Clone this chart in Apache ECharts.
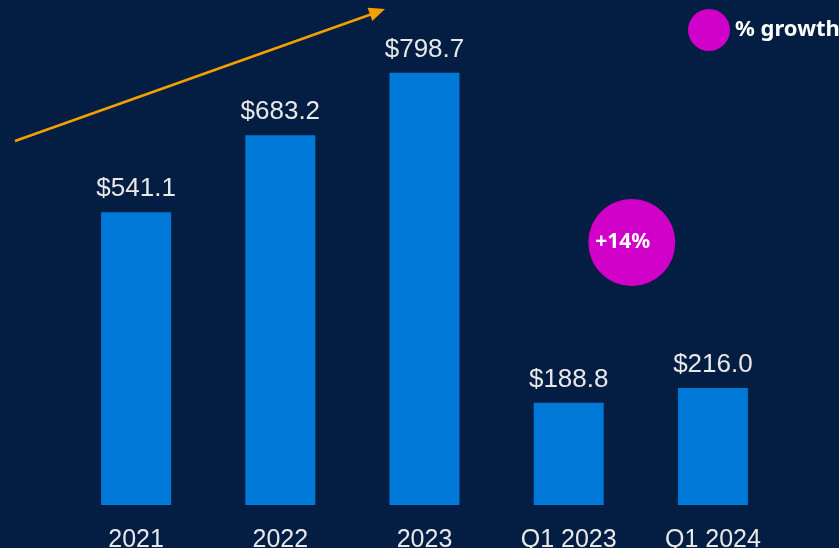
<html>
<head>
<meta charset="UTF-8"/>
<title>Revenue</title>
<script src="https://cdn.jsdelivr.net/npm/echarts@6/dist/echarts.min.js"></script>
<style>
  body { margin: 0; background: #031e42; }
  #canvasDiv { width: 839px; height: 548px; }
</style>
</head>
<body>
<div id="canvasDiv"></div>
<script>
  var categories = ["2021", "2022", "2023", "Q1 2023", "Q1 2024"];
  var revenue = [541.1, 683.2, 798.7, 188.8, 216.0];
  var growthName = "% growth";
  var growthLabels = ["+14%"];
  var growthPoints = [[3.5, 485]]; // between the two quarters

  var chart = echarts.init(document.getElementById("canvasDiv"));

  chart.setOption({
    backgroundColor: "#031e42",
    animation: false,
    grid: { left: 64, right: 54, top: 72, bottom: 43, outerBoundsMode: "none", containLabel: false },
    legend: {
      data: [{ name: growthName, icon: "circle" }],
      left: 683, top: 4,
      itemWidth: 42, itemHeight: 42, itemGap: 8,
      selectedMode: false,
      textStyle: { color: "#ffffff", fontSize: 22, fontWeight: "bold", fontFamily: "Noto Sans", padding: [0, 0, 4, 0] }
    },
    xAxis: [{
      type: "category",
      data: categories,
      axisLine: { show: false },
      axisTick: { show: false },
      axisLabel: { color: "#e8e8e8", fontSize: 25, fontFamily: "Liberation Sans", margin: 23 }
    }, {
      type: "value", min: -0.5, max: 4.5, show: false
    }],
    yAxis: { type: "value", min: 0, max: 800, show: false },
    series: [{
      type: "bar",
      data: revenue,
      barWidth: 70,
      itemStyle: { color: "#0078d7" },
      label: {
        show: true, position: "top", distance: 10,
        color: "#e8e8e8", fontSize: 26, fontFamily: "Liberation Sans",
        formatter: function(p){ return "$" + p.value.toFixed(1); }
      }
    }, {
      type: "scatter",
      name: growthName,
      xAxisIndex: 1,
      data: growthPoints,
      symbolSize: 87,
      symbolOffset: [-9, 0],
      itemStyle: { color: "#d100c8", opacity: 1 },
      label: {
        show: true, position: "inside", offset: [-9, 0],
        color: "#ffffff", fontSize: 21, fontWeight: "bold", fontFamily: "Noto Sans",
        formatter: function(p){ return growthLabels[p.dataIndex]; }
      }
    }],
    graphic: [{
      type: "line",
      shape: { x1: 15, y1: 141, x2: 372, y2: 14 },
      style: { stroke: "#f5a000", lineWidth: 2.5 }
    }, {
      type: "polygon",
      shape: { points: [[385, 9], [372.3, 21.0], [367.6, 7.8]] },
      style: { fill: "#f5a000" }
    }]
  });
</script>
</body>
</html>
